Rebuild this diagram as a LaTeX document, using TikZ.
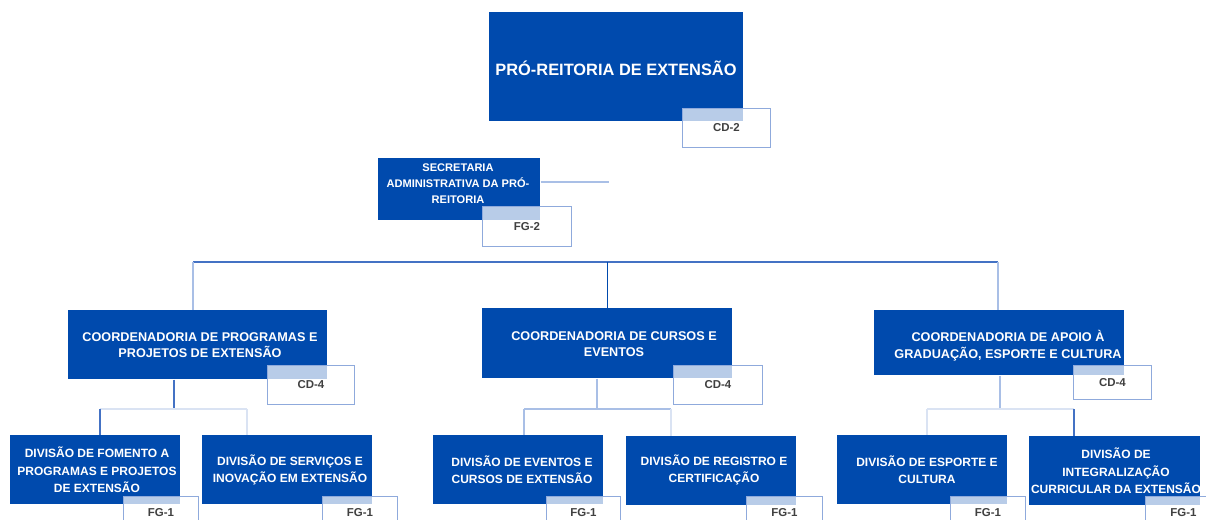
\documentclass[tikz,border=0pt]{standalone}
\usepackage{fontspec}
\setmainfont{Liberation Sans}
\usetikzlibrary{calc}
\definecolor{uniblue}{RGB}{0,74,173}
\definecolor{linkblue}{RGB}{68,114,196}
\definecolor{paleblue}{RGB}{169,191,230}
\definecolor{ghostblue}{RGB}{218,227,243}
\definecolor{tagline}{RGB}{143,170,220}
\definecolor{tagtext}{RGB}{64,64,64}
\def\px{0.75pt}
\tikzset{
  boxsize/.style 2 args={minimum width=#1*\px, minimum height=#2*\px},
  unit/.style={fill=uniblue, inner sep=0pt, anchor=north west},
  unittext/.style={text=white, align=center, inner sep=0pt},
  secfont/.style={font=\bfseries\fontsize{8.3}{12}\selectfont},
  coordfont/.style={font=\bfseries\fontsize{9.5}{12.5}\selectfont},
  divfont/.style={font=\bfseries\fontsize{9}{13}\selectfont},
  gradetag/.style={draw=tagline, line width=0.6pt, fill=white, fill opacity=0.72, text opacity=1,
    text=tagtext, font=\bfseries\fontsize{8.6}{10}\selectfont, inner sep=0pt, anchor=north west},
  link/.style={draw=linkblue, line width=0.9pt},
  palelink/.style={draw=paleblue, line width=0.9pt},
  ghostlink/.style={draw=ghostblue, line width=0.9pt}
}

\begin{document}
\begin{tikzpicture}[x=0.75pt, y=-0.75pt]
  %%%%% START %%%%%
  \useasboundingbox (0,0) rectangle (1206,520);
  \clip (0,0) rectangle (1206,520);

  % pro-reitoria
  \node[unit, boxsize={254}{109}] (pro) at (489,12) {};
  \node[unittext, font=\bfseries\fontsize{12.3}{15}\selectfont] (proText) at (616,68) {PRÓ-REITORIA DE EXTENSÃO};

  % secretaria
  \node[unit, boxsize={162}{62}] (sec) at (378,158) {};
  \node[unittext, secfont] (secText) at (458,184) {SECRETARIA\\ADMINISTRATIVA DA PRÓ-\\REITORIA};
  \coordinate (secEnd) at (609,182);
  \draw[palelink, line width=1.3pt] (sec.east |- secEnd) -- (secEnd);

  % coordenadorias
  \node[unit, boxsize={259}{69}] (coordA) at (68,310) {};
  \node[unittext, coordfont] (coordAText) at (200,345) {COORDENADORIA DE PROGRAMAS E\\PROJETOS DE EXTENSÃO};
  \node[unit, boxsize={250}{70}] (coordB) at (482,308) {};
  \node[unittext, coordfont] (coordBText) at (614,344) {COORDENADORIA DE CURSOS E\\EVENTOS};
  \node[unit, boxsize={250}{65}] (coordC) at (874,310) {};
  \node[unittext, coordfont] (coordCText) at (1008,346) {COORDENADORIA DE APOIO À\\GRADUAÇÃO, ESPORTE E CULTURA};

  % divisoes
  \node[unit, boxsize={170}{69}] (divA1) at (10,435) {};
  \node[unittext, divfont] (divA1Text) at (97,470) {DIVISÃO DE FOMENTO A\\PROGRAMAS E PROJETOS\\DE EXTENSÃO};
  \node[unit, boxsize={170}{69}] (divA2) at (202,435) {};
  \node[unittext, divfont] (divA2Text) at (290,470) {DIVISÃO DE SERVIÇOS E\\INOVAÇÃO EM EXTENSÃO};
  \node[unit, boxsize={170}{69}] (divB1) at (433,435) {};
  \node[unittext, divfont] (divB1Text) at (522,470) {DIVISÃO DE EVENTOS E\\CURSOS DE EXTENSÃO};
  \node[unit, boxsize={170}{69}] (divB2) at (626,436) {};
  \node[unittext, divfont] (divB2Text) at (714,470) {DIVISÃO DE REGISTRO E\\CERTIFICAÇÃO};
  \node[unit, boxsize={170}{69}] (divC1) at (837,435) {};
  \node[unittext, divfont] (divC1Text) at (927,470) {DIVISÃO DE ESPORTE E\\CULTURA};
  \node[unit, boxsize={171}{69}] (divC2) at (1029,436) {};
  \node[unittext, divfont] (divC2Text) at (1116,471) {DIVISÃO DE\\INTEGRALIZAÇÃO\\CURRICULAR DA EXTENSÃO};

  % barramento
  \coordinate (busA) at (193,262);
  \coordinate (busB) at (607,262);
  \coordinate (busC) at (998,262);
  \draw[link] (busA) -- (busC);
  \draw[palelink] (busA) -- (busA |- coordA.north);
  \draw[draw=uniblue, line width=0.5pt] (busB) -- (busB |- coordB.north);
  \draw[palelink] (busC) -- (busC |- coordC.north);

  % ligacoes das divisoes
  \coordinate (dropA) at (174,409);
  \coordinate (legA1) at (100,409);
  \coordinate (legA2) at (247,409);
  \draw[link] (coordA.south -| dropA) -- (dropA);
  \draw[ghostlink] (legA1) -- (legA2);
  \draw[link] (legA1) -- (legA1 |- divA1.north);
  \draw[ghostlink] (legA2) -- (legA2 |- divA2.north);

  \coordinate (dropB) at (597,409);
  \coordinate (legB1) at (524,409);
  \coordinate (legB2) at (671,409);
  \draw[palelink] (coordB.south -| dropB) -- (dropB);
  \draw[palelink] (legB1) -- (legB2);
  \draw[palelink] (legB1) -- (legB1 |- divB1.north);
  \draw[ghostlink] (legB2) -- (legB2 |- divB2.north);

  \coordinate (dropC) at (1000,409);
  \coordinate (legC1) at (927,409);
  \coordinate (legC2) at (1074,409);
  \draw[palelink] (coordC.south -| dropC) -- (dropC);
  \draw[ghostlink] (legC1) -- (legC2);
  \draw[ghostlink] (legC1) -- (legC1 |- divC1.north);
  \draw[link] (legC2) -- (legC2 |- divC2.north);

  % cargos
  \node[gradetag, boxsize={88}{39}] (proTag) at (682,108) {CD-2};
  \node[gradetag, boxsize={89}{40}] (secTag) at (482,206) {FG-2};
  \node[gradetag, boxsize={87}{39}] (coordATag) at (267,365) {CD-4};
  \node[gradetag, boxsize={89}{39}] (coordBTag) at (673,365) {CD-4};
  \node[gradetag, boxsize={78}{34}] (coordCTag) at (1073,365) {CD-4};
  \node[gradetag, boxsize={75}{32}] (divA1Tag) at (123,496) {FG-1};
  \node[gradetag, boxsize={75}{32}] (divA2Tag) at (322,496) {FG-1};
  \node[gradetag, boxsize={74}{32}] (divB1Tag) at (546,496) {FG-1};
  \node[gradetag, boxsize={76}{32}] (divB2Tag) at (746,496) {FG-1};
  \node[gradetag, boxsize={75}{32}] (divC1Tag) at (950,496) {FG-1};
  \node[gradetag, boxsize={76}{32}] (divC2Tag) at (1145,496) {FG-1};

  %%%%% END %%%%%
\end{tikzpicture}
\end{document}
